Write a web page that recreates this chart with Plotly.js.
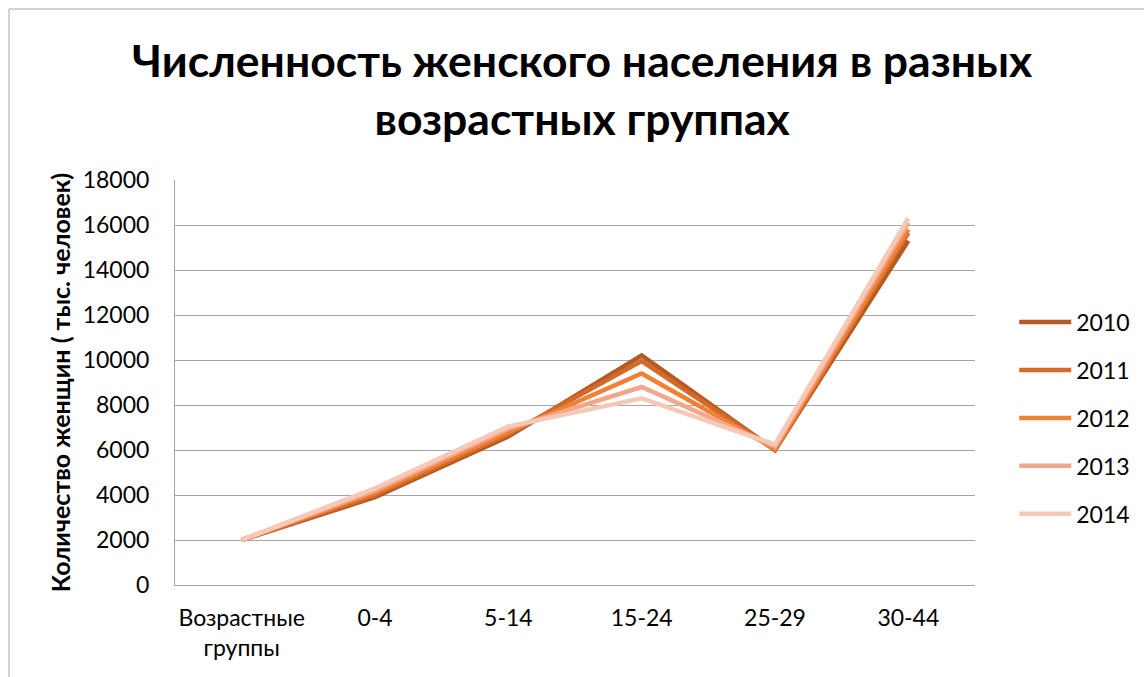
<!DOCTYPE html>
<html>
<head>
<meta charset="utf-8">
<script src="https://cdn.plot.ly/plotly-3.0.1.min.js"></script>
<style>html,body{margin:0;padding:0;background:#fff;}#chart{width:1144px;height:677px;}</style>
</head>
<body>
<div id="chart"></div>
<script>
var categories = ["Возрастные<br>группы", "0-4", "5-14", "15-24", "25-29", "30-44"];
var years = ["2010", "2011", "2012", "2013", "2014"];
var v2010 = [2000, 3900, 6600, 10200, 6000, 15300];
var v2011 = [2000, 4000, 6700, 9950, 6000, 15650];
var v2012 = [2000, 4100, 6800, 9400, 6050, 15800];
var v2013 = [2000, 4200, 6950, 8800, 6150, 16100];
var v2014 = [2000, 4300, 7050, 8300, 6250, 16300];
var yTicks = [0, 2000, 4000, 6000, 8000, 10000, 12000, 14000, 16000, 18000];
var colors = ["#B55A24", "#D36A2A", "#F08034", "#F2A68A", "#F6C8B7"];

var series = [v2010, v2011, v2012, v2013, v2014];
var traces = series.map(function (vals, i) {
  return {
    type: "scatter",
    mode: "lines",
    name: years[i],
    legendgroup: years[i],
    x: categories,
    y: vals,
    line: {color: colors[i], width: 4.5},
    hoverinfo: "skip"
  };
});

var gridC = "#A6A6A6";
var ff = "Lato, 'Open Sans', sans-serif";
var layout = {
  width: 1144,
  height: 677,
  margin: {l: 175, r: 169, t: 180, b: 92, autoexpand: false},
  paper_bgcolor: "#ffffff",
  plot_bgcolor: "#ffffff",
  font: {family: ff, color: "#000000", size: 23},
  title: {
    text: "<b>Численность женского населения в разных<br>возрастных группах</b>",
    font: {family: ff, size: 44.5, color: "#000000"},
    x: 0.509, xref: "paper", xanchor: "center",
    y: 1, yref: "paper", yanchor: "bottom",
    pad: {b: 103}
  },
  xaxis: {
    type: "category",
    range: [-0.5, 5.5],
    showgrid: false,
    showline: true,
    linecolor: gridC,
    linewidth: 1,
    ticks: "",
    ticklabelstandoff: 12,
    tickfont: {size: 23},
    zeroline: false,
    fixedrange: true
  },
  yaxis: {
    range: [0, 18000],
    tickvals: yTicks,
    ticktext: yTicks.map(String),
    showgrid: true,
    gridcolor: gridC,
    gridwidth: 1,
    showline: true,
    linecolor: gridC,
    linewidth: 1,
    zeroline: false,
    ticks: "",
    ticklabelstandoff: 20,
    tickfont: {size: 23},
    title: {
      text: "<b>Количество женщин ( тыс. человек)</b>",
      font: {size: 25, family: ff},
      standoff: 4
    },
    fixedrange: true
  },
  legend: {
    x: 1.049, xanchor: "left",
    y: 0.412, yanchor: "middle",
    font: {size: 23},
    itemwidth: 52,
    tracegroupgap: 15,
    bgcolor: "rgba(0,0,0,0)"
  },
  showlegend: true,
  shapes: [{
    type: "rect", xref: "paper", yref: "paper",
    x0: -0.2075, x1: 1.25, y0: -0.3, y1: 1.4222,
    line: {color: "#A6A6A6", width: 1},
    fillcolor: "rgba(0,0,0,0)",
    layer: "below"
  }]
};

Plotly.newPlot("chart", traces, layout, {displayModeBar: false, staticPlot: true});
</script>
</body>
</html>
